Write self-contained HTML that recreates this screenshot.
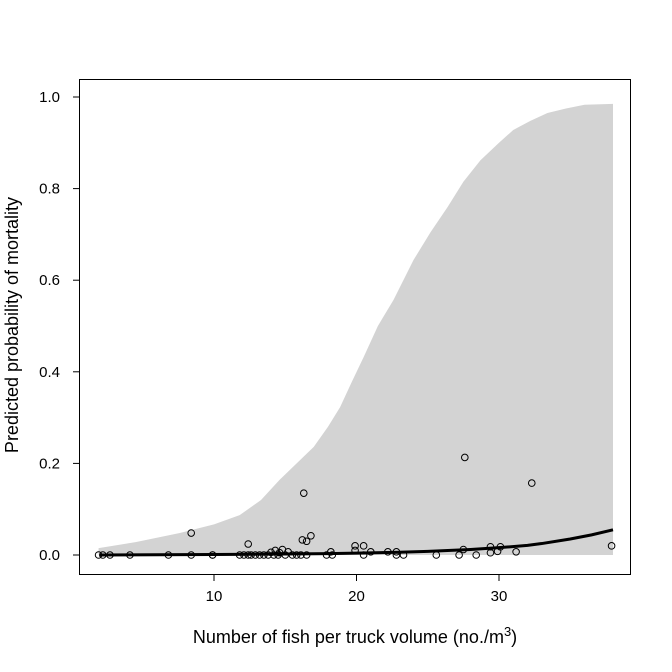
<!DOCTYPE html>
<html><head><meta charset="utf-8"><style>body{margin:0;background:#fff}svg{display:block;font-family:"Liberation Sans",Arial,sans-serif}</style></head>
<body>
<svg id="c" width="672" height="672"></svg>
<script>
const bandX=[1.9,4.5,7.6,10,11.8,13.3,14.6,15.8,17.0,18.0,18.85,19.7,20.5,21.5,22.6,24.0,25.2,26.4,27.5,28.7,30,31.0,32.2,33.4,34.7,36.0,38];
const bandUpper=[0.015,0.028,0.048,0.067,0.087,0.12,0.164,0.2,0.236,0.28,0.323,0.38,0.432,0.5,0.557,0.644,0.705,0.76,0.815,0.862,0.9,0.928,0.948,0.965,0.975,0.983,0.985];
const fitX=[2,6,10,14,18,20,23,25,28,30,32,33,35,36.5,38];
const fitY=[0,0.0005,0.001,0.002,0.003,0.004,0.006,0.008,0.012,0.016,0.021,0.025,0.035,0.044,0.055];
const ptX=[1.9,2.2,2.7,4.1,6.8,8.4,8.4,9.9,9.9,11.8,12.1,12.4,12.4,12.6,12.9,13.2,13.5,13.8,14.0,14.2,14.3,14.5,14.6,14.8,15.0,15.2,15.5,15.8,16.1,16.2,16.3,16.5,16.5,16.8,17.9,18.2,18.3,19.9,19.9,20.5,20.5,21.0,22.2,22.8,22.8,23.3,25.6,27.2,27.5,27.6,28.4,29.4,29.4,29.9,30.1,31.2,32.3,37.9];
const ptY=[0,0,0,0,0,0,0.048,0,0,0,0,0,0.024,0,0,0,0,0,0.006,0,0.01,0,0.005,0.012,0,0.007,0,0,0,0.033,0.135,0.03,0,0.042,0,0.007,0,0.01,0.02,0.02,0,0.007,0.007,0.007,0,0,0,0,0.012,0.213,0,0.018,0.005,0.008,0.018,0.007,0.157,0.02];
const xTicks=[10,20,30];const yTicks=[0,0.2,0.4,0.6,0.8,1.0];
const NS="http://www.w3.org/2000/svg",svg=document.getElementById('c');
const sx=v=>71.5+v*14.25, sy=v=>555-v*458;
function mk(t,a,p){const e=document.createElementNS(NS,t);for(const k in a)e.setAttribute(k,a[k]);(p||svg).appendChild(e);return e;}
let d='M'+sx(bandX[0])+','+sy(0);
bandX.forEach((x,i)=>d+='L'+sx(x)+','+sy(bandUpper[i]));
d+='L'+sx(bandX[bandX.length-1])+','+sy(0)+'Z';
const band=mk('path',{d:d,fill:'#d3d3d3'});


const fit=mk('polyline',{points:fitX.map((x,i)=>sx(x)+','+sy(fitY[i])).join(' '),fill:'none',stroke:'#000','stroke-width':3});


ptX.forEach((x,i)=>{const c=mk('circle',{cx:sx(x),cy:sy(ptY[i]),r:3.3,fill:'none',stroke:'#000','stroke-width':1});

});
const box=mk('rect',{x:79.5,y:79.5,width:551,height:495,fill:'none',stroke:'#000'});


xTicks.forEach(v=>{mk('line',{x1:sx(v),x2:sx(v),y1:574.5,y2:581,stroke:'#000'});
const t=mk('text',{x:sx(v),y:601,'text-anchor':'middle','font-size':15});t.textContent=v;

});
yTicks.forEach(v=>{mk('line',{x1:73,x2:79.5,y1:sy(v),y2:sy(v),stroke:'#000'});
const t=mk('text',{x:60,y:sy(v)+5,'text-anchor':'end','font-size':15});t.textContent=v.toFixed(1);

});
</script>
<svg width="672" height="672" style="position:absolute;left:0;top:0">
<text x="355" y="643" text-anchor="middle" font-size="18" font-family="Liberation Sans,sans-serif">Number of fish per truck volume (no./m<tspan dy="-7" font-size="13">3</tspan><tspan dy="7">)</tspan></text>
<text transform="translate(18,325) rotate(-90)" text-anchor="middle" font-size="18" font-family="Liberation Sans,sans-serif">Predicted probability of mortality</text>
</svg>
</body></html>
